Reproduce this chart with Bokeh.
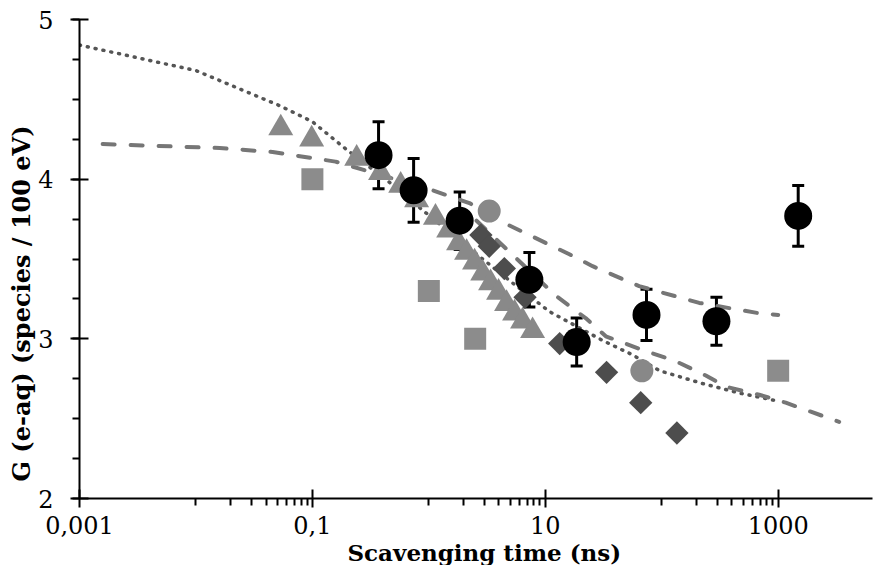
import numpy as np
from bokeh.plotting import figure
from bokeh.models import Range1d, FixedTicker, Whisker, TeeHead, ColumnDataSource, Title
from bokeh.embed import file_html
from bokeh.resources import INLINE

# ---- data ----
x_ticks = [0.001, 0.1, 10, 1000]
x_tick_labels = ["0,001", "0,1", "10", "1000"]
y_ticks = [2, 3, 4, 5]

# black circles with error bars
exp_x = [0.37, 0.74, 1.84, 7.3, 18.6, 74, 295, 1486]
exp_y = [4.15, 3.93, 3.74, 3.37, 2.98, 3.15, 3.11, 3.77]
exp_err = [0.21, 0.20, 0.18, 0.17, 0.15, 0.16, 0.15, 0.19]

# grey circles
gc_x = [3.3, 67.5]
gc_y = [3.80, 2.80]

# grey squares
sq_x = [0.1, 1.0, 2.5, 1000]
sq_y = [4.00, 3.30, 3.00, 2.80]

# dark diamonds
dia_x = [2.8, 3.3, 4.45, 6.7, 13.3, 33.6, 66, 135]
dia_y = [3.65, 3.58, 3.44, 3.26, 2.97, 2.79, 2.60, 2.41]

# grey triangles
tri_x = [0.0535, 0.0986, 0.24, 0.385, 0.573, 0.785, 1.14, 1.48, 1.80,
         2.11, 2.47, 2.90, 3.39, 3.97, 4.65, 5.45, 6.38, 7.78]
tri_y = [4.32, 4.25, 4.13, 4.04, 3.96, 3.87, 3.76, 3.68, 3.60,
         3.54, 3.48, 3.41, 3.35, 3.29, 3.22, 3.16, 3.11, 3.05]

# dotted simulation curve
dot_x = [0.001, 0.01, 0.0524, 0.1, 0.193, 0.46, 0.94, 2.38, 5.45, 10.9,
         31, 56, 96, 224, 466, 1000]
dot_y = [4.84, 4.68, 4.46, 4.36, 4.19, 3.98, 3.79, 3.55, 3.34, 3.17,
         2.99, 2.90, 2.80, 2.72, 2.66, 2.61]

# upper dashed curve
dashA_x = [0.00158, 0.016, 0.0456, 0.158, 1.08, 2.23, 4.91, 16.1, 25.5,
           64, 210, 687, 1000]
dashA_y = [4.22, 4.195, 4.17, 4.11, 3.93, 3.85, 3.71, 3.53, 3.455,
           3.33, 3.225, 3.16, 3.15]

# lower dashed curve
dashB_x = [2.57, 12.3, 22.2, 33.1, 68.4, 132, 239, 355, 687, 1160, 3340]
dashB_y = [3.74, 3.27, 3.13, 3.016, 2.93, 2.86, 2.77, 2.70, 2.65, 2.60, 2.48]

SERIF = "DejaVu Serif"

p = figure(frame_width=793, frame_height=479, x_axis_type="log",
           x_range=Range1d(0.001, 6457), y_range=Range1d(2, 5),
           min_border_left=79, min_border_right=7, min_border_top=19,
           min_border_bottom=60, output_backend="svg", toolbar_location=None)

p.background_fill_color = "white"
p.border_fill_color = "white"
p.outline_line_color = None
p.grid.visible = False

# x axis ticks
minor_x = []
for d in x_ticks:
    for k in range(1, 10):
        v = d * 10 * k
        if v < 6457:
            minor_x.append(v)
p.xaxis.ticker = FixedTicker(ticks=x_ticks, minor_ticks=minor_x)
p.xaxis.major_label_overrides = {float(t): lab for t, lab in zip(x_ticks, x_tick_labels)}

minor_y = [2 + 0.25 * i for i in range(13)]
p.yaxis.ticker = FixedTicker(ticks=y_ticks, minor_ticks=minor_y)

for ax in (p.xaxis, p.yaxis):
    ax.axis_line_color = "black"
    ax.axis_line_width = 2
    ax.major_tick_line_color = "black"
    ax.major_tick_line_width = 2
    ax.minor_tick_line_color = "black"
    ax.minor_tick_line_width = 2
    ax.major_tick_in = 9
    ax.major_tick_out = 9
    ax.minor_tick_in = 0
    ax.minor_tick_out = 7
    ax.major_label_text_font = SERIF
    ax.major_label_text_font_size = "24px"
    ax.major_label_text_color = "black"
p.xaxis.major_label_standoff = 8
p.yaxis.major_label_standoff = 17

# curves
p.line(dot_x, dot_y, line_color="#555555", line_width=3.5, line_dash="1 7", line_cap="round")
p.line(dashA_x, dashA_y, line_color="#767676", line_width=4, line_dash="12 16", line_cap="round")
p.line(dashB_x, dashB_y, line_color="#767676", line_width=4, line_dash="12 16", line_cap="round")

# markers
p.scatter(sq_x, sq_y, marker="square", size=22, fill_color="#8c8c8c", line_color=None)
p.scatter(tri_x, tri_y, marker="triangle", size=25, fill_color="#898989", line_color=None)
p.scatter(dia_x, dia_y, marker="square", angle=np.pi / 4, size=16.5,
          fill_color="#4d4d4d", line_color=None)
p.scatter(gc_x, gc_y, marker="circle", size=23, fill_color="#888888", line_color=None)

src = ColumnDataSource(dict(
    base=exp_x,
    upper=[y + e for y, e in zip(exp_y, exp_err)],
    lower=[y - e for y, e in zip(exp_y, exp_err)],
))
wh = Whisker(source=src, base="base", upper="upper", lower="lower",
             line_color="black", line_width=3,
             upper_head=TeeHead(size=12, line_width=3, line_color="black"),
             lower_head=TeeHead(size=12, line_width=3, line_color="black"))
p.add_layout(wh)
p.scatter(exp_x, exp_y, marker="circle", size=28, fill_color="black", line_color=None)

# axis titles
xt = Title(text="Scavenging time (ns)", align="left", offset=268,
           text_font=SERIF, text_font_style="bold", text_font_size="23px",
           text_color="black", standoff=0)
p.add_layout(xt, "below")
yt = Title(text="G (e-aq) (species / 100 eV)", align="left", offset=17,
           text_font=SERIF, text_font_style="bold", text_font_size="24px",
           text_color="black", standoff=0)
p.add_layout(yt, "left")

open("out.html", "w").write(file_html(p, INLINE))
